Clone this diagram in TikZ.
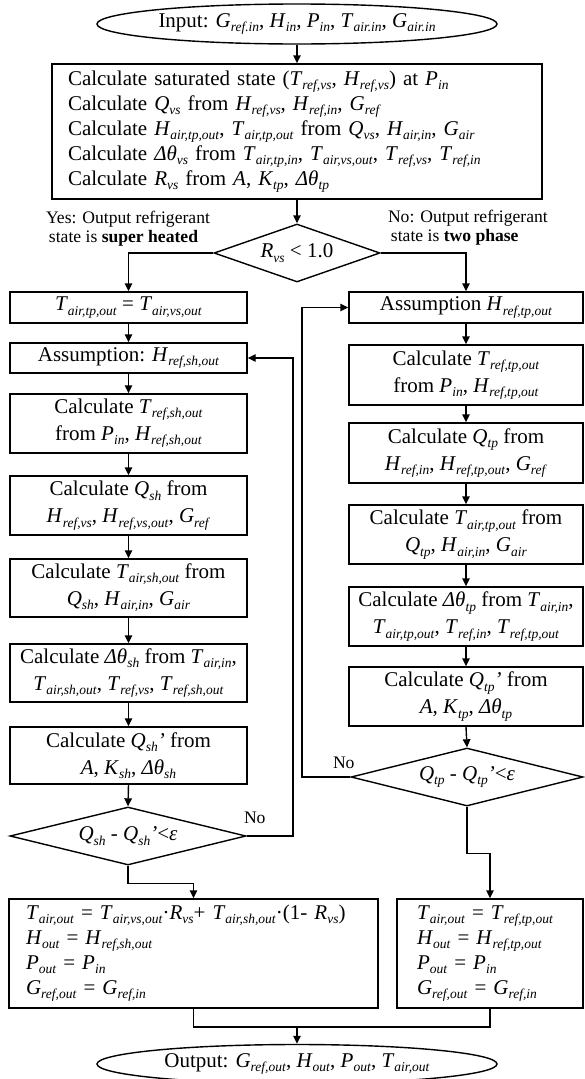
\documentclass[tikz,border=0pt]{standalone}
\usepackage{fontspec}
\setmainfont{Liberation Serif}
\usetikzlibrary{arrows.meta,shapes.geometric}
\newcommand\vb[2]{\textit{#1}\raisebox{-0.2em}{\fontsize{13.5}{13.5}\selectfont\textit{#2}}}

\begin{document}
\begin{tikzpicture}[x=1pt,y=-1pt,line width=1.4pt,
  arr/.style={-{Triangle[length=8pt,width=7.5pt]}},
  stepbox/.style={draw,rectangle,align=center,inner sep=0pt,font=\fontsize{21}{27}\selectfont},
  listbox/.style={draw,rectangle,align=left,inner sep=0pt,font=\fontsize{21}{25}\selectfont},
  decision/.style={draw,diamond,inner sep=0pt,minimum height=58pt,font=\fontsize{21}{25}\selectfont},
  terminal/.style={draw,ellipse,inner sep=0pt,minimum width=400pt,font=\fontsize{21}{25}\selectfont},
  lbl/.style={align=left,anchor=west,font=\fontsize{17.6}{19}\selectfont}]
\useasboundingbox (0,0) rectangle (584,1079);
% Start and first block
\node[terminal,minimum height=40pt] (start) at (297,24) {Input: \vb{G}{ref.in}, \vb{H}{in}, \vb{P}{in}, \vb{T}{air.in}, \vb{G}{air.in}};
\node[listbox,text width=458pt,inner xsep=16pt,minimum height=135pt] (init) at (297,131.5) {%
  Calculate saturated state (\vb{T}{ref,vs}, \vb{H}{ref,vs}) at \vb{P}{in}\\
  Calculate \vb{Q}{vs} from \vb{H}{ref,vs}, \vb{H}{ref,in}, \vb{G}{ref}\\
  Calculate \vb{H}{air,tp,out}, \vb{T}{air,tp,out} from \vb{Q}{vs}, \vb{H}{air,in}, \vb{G}{air}\\
  Calculate \vb{Δθ}{vs} from \vb{T}{air,tp,in}, \vb{T}{air,vs,out}, \vb{T}{ref,vs}, \vb{T}{ref,in}\\
  Calculate \vb{R}{vs} from \textit{A}, \vb{K}{tp}, \vb{Δθ}{tp}};
\node[decision,aspect=2.9,minimum width=166pt] (rvs) at (297,253) {\vb{R}{vs} < 1.0};
\node[lbl] (yes) at (42,229) {Yes: Output refrigerant\\ \,state is \textbf{super heated}};
\node[lbl] (no) at (384,228) {No: Output refrigerant\\ \,state is \textbf{two phase}};
% Super heated column
\node[stepbox,minimum width=237pt,minimum height=31pt] (tairL) at (128.5,307.5) {\vb{T}{air,tp,out} = \vb{T}{air,vs,out}};
\node[stepbox,minimum width=237pt,minimum height=30pt] (asmL) at (128.5,358) {Assumption: \vb{H}{ref,sh,out}};
\node[stepbox,minimum width=237pt,minimum height=59pt] (trefL) at (128.5,423.5) {Calculate \vb{T}{ref,sh,out}\\from \vb{P}{in}, \vb{H}{ref,sh,out}};
\node[stepbox,minimum width=237pt,minimum height=59pt] (qshL) at (128.5,505.5) {Calculate \vb{Q}{sh} from\\\vb{H}{ref,vs}, \vb{H}{ref,vs,out}, \vb{G}{ref}};
\node[stepbox,minimum width=237pt,minimum height=58pt] (tairshL) at (128.5,588) {Calculate \vb{T}{air,sh,out} from\\\vb{Q}{sh}, \vb{H}{air,in}, \vb{G}{air}};
\node[stepbox,minimum width=237pt,minimum height=58pt] (dthL) at (128.5,673) {Calculate \vb{Δθ}{sh} from \vb{T}{air,in},\\\vb{T}{air,sh,out}, \vb{T}{ref,vs}, \vb{T}{ref,sh,out}};
\node[stepbox,minimum width=237pt,minimum height=57pt] (qshpL) at (128.5,755.5) {Calculate \vb{Q}{sh}\textit{’} from\\\textit{A}, \vb{K}{sh}, \vb{Δθ}{sh}};
\node[decision,aspect=4,minimum width=236pt] (chkL) at (128,836) {\vb{Q}{sh} - \vb{Q}{sh}\textit{’}<\textit{ε}};
\node[lbl] (noL) at (240,818) {No};
% Two phase column
\node[stepbox,minimum width=234pt,minimum height=31pt] (asmR) at (466,307.5) {Assumption \vb{H}{ref,tp,out}};
\node[stepbox,minimum width=234pt,minimum height=60pt] (trefR) at (466,375) {Calculate \vb{T}{ref,tp,out}\\from \vb{P}{in}, \vb{H}{ref,tp,out}};
\node[stepbox,minimum width=234pt,minimum height=60pt] (qtpR) at (466,453) {Calculate \vb{Q}{tp} from\\\vb{H}{ref,in}, \vb{H}{ref,tp,out}, \vb{G}{ref}};
\node[stepbox,minimum width=234pt,minimum height=59pt] (tairR) at (466,534.5) {Calculate \vb{T}{air,tp,out} from\\\vb{Q}{tp}, \vb{H}{air,in}, \vb{G}{air}};
\node[stepbox,minimum width=234pt,minimum height=59pt] (dthR) at (466,616.5) {Calculate \vb{Δθ}{tp} from \vb{T}{air,in},\\\vb{T}{air,tp,out}, \vb{T}{ref,in}, \vb{T}{ref,tp,out}};
\node[stepbox,minimum width=234pt,minimum height=59pt] (qtppR) at (466,696.5) {Calculate \vb{Q}{tp}\textit{’} from\\\textit{A}, \vb{K}{tp}, \vb{Δθ}{tp}};
\node[decision,aspect=4,minimum width=232pt] (chkR) at (467,777) {\vb{Q}{tp} - \vb{Q}{tp}\textit{’}<\textit{ε}};
\node[lbl] (noR) at (329,763) {No};
% Outputs
\node[listbox,text width=335pt,inner xsep=17pt,minimum height=109pt] (outL) at (193.5,953.5) {%
  \vb{T}{air,out} = \vb{T}{air,vs,out}·\vb{R}{vs}+ \vb{T}{air,sh,out}·(1- \vb{R}{vs})\\
  \vb{H}{out} = \vb{H}{ref,sh,out}\\
  \vb{P}{out} = \vb{P}{in}\\
  \vb{G}{ref,out} = \vb{G}{ref,in}};
\node[listbox,text width=146pt,inner xsep=20pt,minimum height=109pt] (outR) at (490,953.5) {%
  \vb{T}{air,out} = \vb{T}{ref,tp,out}\\
  \vb{H}{out} = \vb{H}{ref,tp,out}\\
  \vb{P}{out} = \vb{P}{in}\\
  \vb{G}{ref,out} = \vb{G}{ref,in}};
\node[terminal,minimum height=39pt] (stop) at (297,1064) {Output: \vb{G}{ref,out}, \vb{H}{out}, \vb{P}{out}, \vb{T}{air,out}};
% Connectors
\coordinate (loopL) at (293,0);
\coordinate (loopR) at (302,0);
\coordinate (join) at (297,1027);
\draw[arr] (start) -- (init);
\draw[arr] (init) -- (rvs);
\draw[arr] (rvs.west) -| (tairL.north);
\draw[arr] (rvs.east) -| (asmR.north);
\foreach \a/\b in {tairL/asmL,asmL/trefL,trefL/qshL,qshL/tairshL,tairshL/dthL,dthL/qshpL,qshpL/chkL,
  asmR/trefR,trefR/qtpR,qtpR/tairR,tairR/dthR,dthR/qtppR,qtppR/chkR} {
  \draw[arr] (\a.south) -- (\b.north);
}
\draw[arr] (chkL.east) -- (chkL.east -| loopL) |- (asmL.east);
\draw[arr] (chkR.west) -- (chkR.west -| loopR) |- (asmR.west);
\draw[arr] (chkL.south) -- ++(0,18) -| (outL.north);
\draw[arr] (chkR.south) -- ++(0,47) -| (outR.north);
\draw (outL.south) |- (join);
\draw (outR.south) |- (join);
\draw[arr] (join) -- (stop.north);
\end{tikzpicture}
\end{document}
